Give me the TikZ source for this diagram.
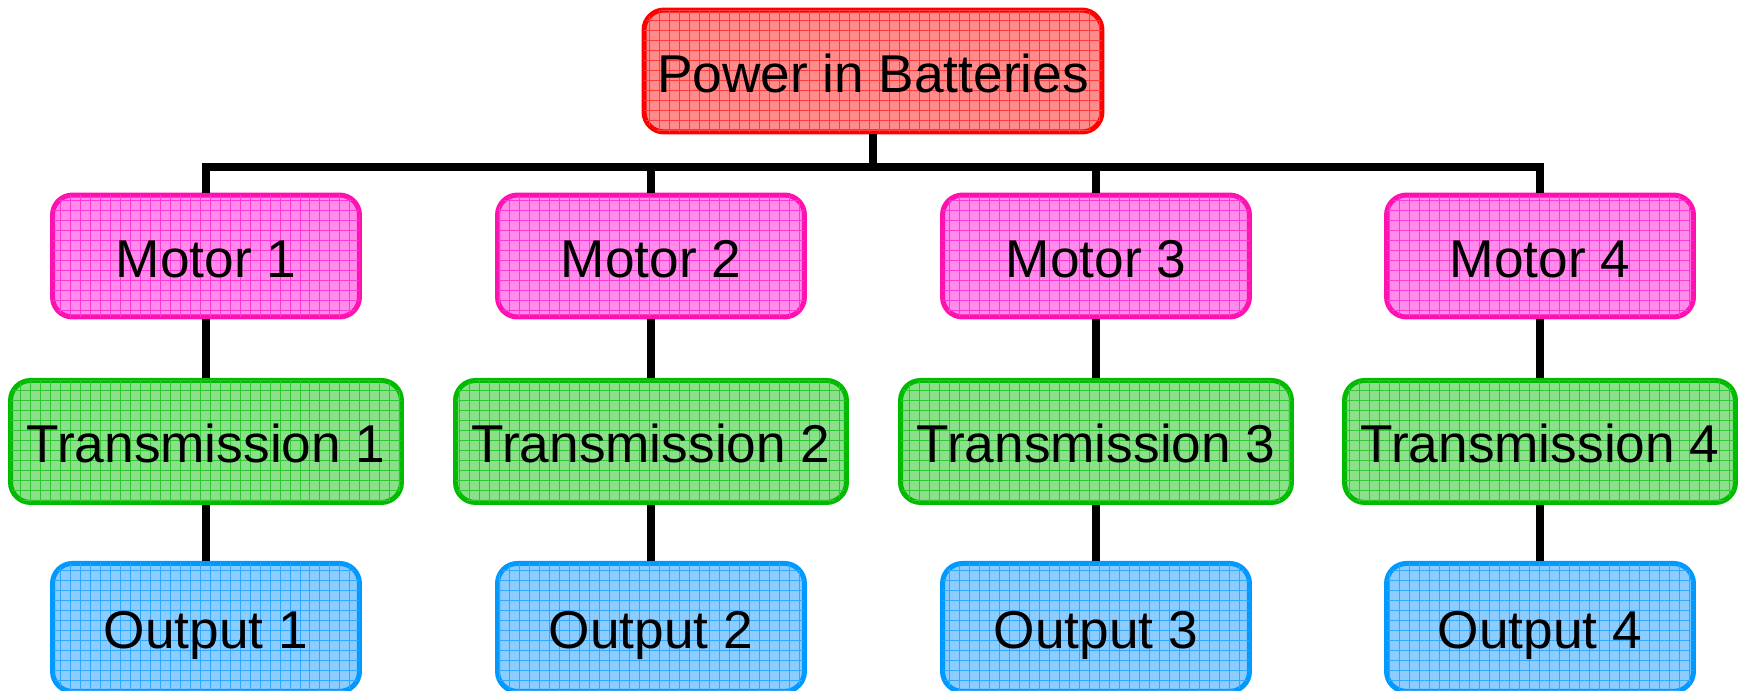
\documentclass[tikz,border=0pt]{standalone}
\usepackage{fontspec}
\setmainfont{Liberation Sans}
\usepackage{tikz}
\usetikzlibrary{positioning,patterns.meta}
\definecolor{pwrline}{HTML}{FF0000}
\definecolor{pwrfill}{HTML}{FF8C8C}
\definecolor{pwrgrid}{HTML}{FF3A3A}
\definecolor{motline}{HTML}{FF10B0}
\definecolor{motfill}{HTML}{FF8CEA}
\definecolor{motgrid}{HTML}{FF38D4}
\definecolor{trnline}{HTML}{00BB00}
\definecolor{trnfill}{HTML}{8CE08C}
\definecolor{trngrid}{HTML}{30C830}
\definecolor{outline}{HTML}{0099FF}
\definecolor{outfill}{HTML}{8CCCFF}
\definecolor{outgrid}{HTML}{30A8FF}

\begin{document}
\begin{tikzpicture}[
  x=0.02cm,y=-0.02cm,
  node distance=1.17cm,
  unit/.style={rounded corners=0.4cm,line width=0.1cm,align=center,
    font=\fontsize{30.3}{36}\selectfont,text height=30pt,text depth=6pt,
    minimum height=2.44cm},
  power/.style={unit,draw=pwrline,fill=pwrfill,minimum width=9.16cm,
    postaction={pattern={Hatch[distance=0.2cm,angle=0,line width=0.5pt]},pattern color=pwrgrid}},
  motor/.style={unit,draw=motline,fill=motfill,minimum width=6.14cm,
    postaction={pattern={Hatch[distance=0.2cm,angle=0,line width=0.5pt]},pattern color=motgrid}},
  trans/.style={unit,draw=trnline,fill=trnfill,minimum width=7.82cm,
    postaction={pattern={Hatch[distance=0.2cm,angle=0,line width=0.5pt]},pattern color=trngrid}},
  output/.style={unit,draw=outline,fill=outfill,minimum width=6.14cm,minimum height=2.56cm,
    postaction={pattern={Hatch[distance=0.2cm,angle=0,line width=0.5pt]},pattern color=outgrid}},
  link/.style={line width=0.15cm,black}
]
\useasboundingbox (0,0) rectangle (1744,690);
\node[power] (batt) at (873,71) {Power in Batteries};
\coordinate (bar) at (873,167);
\foreach \i/\x in {1/206,2/651,3/1096,4/1540} {
  \node[motor] (motor\i) at (\x,256) {Motor \i};
  \node[trans,below=of motor\i] (trans\i) {Transmission \i};
  \node[output,below=1.12cm of trans\i] (out\i) {Output \i};
  \draw[link] (bar) -| (motor\i.north);
  \draw[link] (motor\i) -- (trans\i);
  \draw[link] (trans\i) -- (out\i);
}
\draw[link] (batt) -- (bar);
\end{tikzpicture}
\end{document}
